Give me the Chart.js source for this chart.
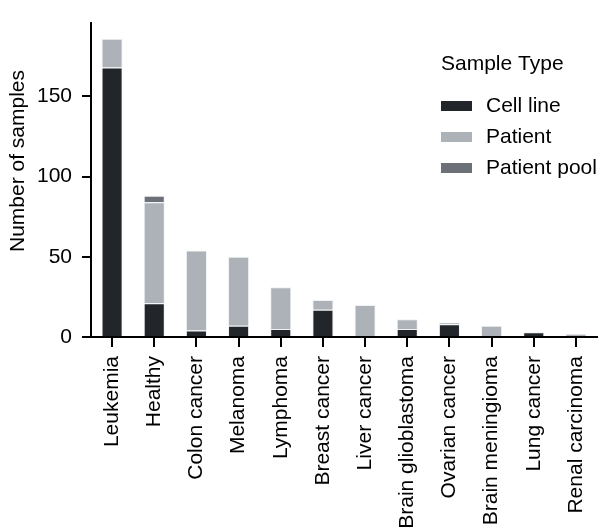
<!DOCTYPE html>
<html>
<head>
<meta charset="utf-8">
<script src="https://cdn.jsdelivr.net/npm/chart.js@4.4.1/dist/chart.umd.min.js"></script>
<style>
  html, body { margin: 0; padding: 0; background: #fff; }
  #wrap { width: 600px; height: 532px; }
</style>
</head>
<body>
<div id="wrap"><canvas id="samples" width="600" height="532"></canvas></div>
<script>
// Sample counts per disease category, stacked by sample type
const categories = ['Leukemia', 'Healthy', 'Colon cancer', 'Melanoma', 'Lymphoma', 'Breast cancer',
    'Liver cancer', 'Brain glioblastoma', 'Ovarian cancer', 'Brain meningioma', 'Lung cancer', 'Renal carcinoma'];
const cellLine    = [168, 21,  4,  7,  5, 17,  0, 5, 8, 0, 3, 0];
const patient     = [ 18, 63, 50, 43, 26,  6, 20, 6, 1, 7, 0, 2];
const patientPool = [  0,  4,  0,  0,  0,  0,  0, 0, 0, 0, 0, 0];
const yTicks = [0, 50, 100, 150];
const yMax = 196;

const colors = { cell: '#222529', patient: '#adb2b8', pool: '#6c7178' };
const FONT = '"Liberation Sans", Arial, Helvetica, sans-serif';

Chart.defaults.font.family = FONT;
Chart.defaults.font.size = 21;
Chart.defaults.color = '#000';

// legend + y title drawn by hand so they can float inside the plot
const extras = {
    id: 'extras',
    afterDraw(chart) {
        const ctx = chart.ctx;
        ctx.save();
        ctx.fillStyle = '#000';
        ctx.font = '21px ' + FONT;
        ctx.textBaseline = 'middle';
        ctx.textAlign = 'left';
        ctx.fillText('Sample Type', 441, 64);
        chart.data.datasets.forEach((ds, i) => {
            const y = 106 + i * 31;
            ctx.fillStyle = ds.backgroundColor;
            ctx.fillRect(441, y - 5, 31, 10);
            ctx.fillStyle = '#000';
            ctx.fillText(ds.label, 486, y);
        });
        // y axis title
        ctx.translate(18, 161);
        ctx.rotate(-Math.PI / 2);
        ctx.textAlign = 'center';
        ctx.fillText('Number of samples', 0, 0);
        ctx.restore();
    }
};

const bar = (label, data, color) => ({
    label, data,
    backgroundColor: color,
    borderColor: 'rgba(235,237,240,0.8)',
    borderWidth: 1,
    barPercentage: 0.5,
    categoryPercentage: 1.0
});

new Chart(document.getElementById('samples'), {
    type: 'bar',
    data: {
        labels: categories,
        datasets: [
            bar('Cell line', cellLine, colors.cell),
            bar('Patient', patient, colors.patient),
            bar('Patient pool', patientPool, colors.pool)
        ]
    },
    options: {
        responsive: false,
        animation: false,
        devicePixelRatio: 1,
        layout: { padding: { top: 9, right: 3, left: 0, bottom: 0 } },
        plugins: { legend: { display: false }, tooltip: { enabled: false } },
        scales: {
            x: {
                stacked: true,
                border: { color: '#000', width: 2 },
                grid: { offset: false, drawOnChartArea: false, drawTicks: true, tickLength: 10, color: '#000', lineWidth: 2 },
                ticks: { minRotation: 90, maxRotation: 90, padding: 9, autoSkip: false },
                afterFit(scale) {
                    scale.height = 195;
                    scale.paddingLeft = 0;
                    scale.paddingRight = 0;
                }
            },
            y: {
                stacked: true,
                min: 0, max: yMax,
                border: { color: '#000', width: 2 },
                grid: { drawOnChartArea: false, drawTicks: true, tickLength: 9, color: '#000', lineWidth: 2 },
                ticks: { includeBounds: false, padding: 10 },
                afterBuildTicks(scale) { scale.ticks = yTicks.map(v => ({ value: v })); },
                afterFit(scale) { scale.width = 91; }
            }
        }
    },
    plugins: [extras]
});
</script>
</body>
</html>
